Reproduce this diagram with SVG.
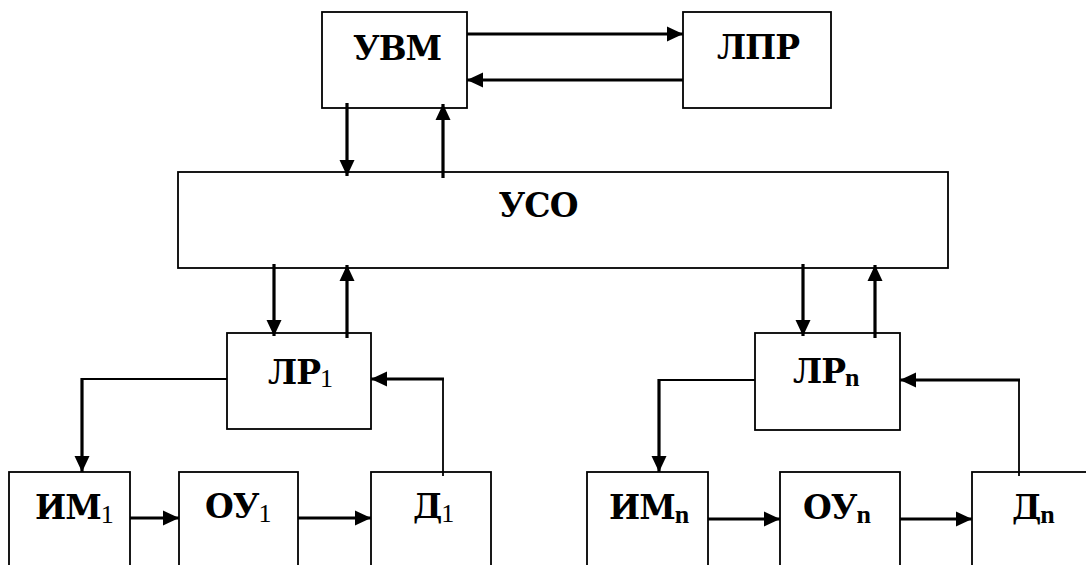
<svg xmlns="http://www.w3.org/2000/svg" width="1086" height="565" viewBox="0 0 1086 565">
<style>
.box{fill:#fff;stroke:#000;stroke-width:1.8}
text{font-family:'DejaVu Serif',serif;font-size:33px;font-weight:700;fill:#000;letter-spacing:-1px}
.sub1{font-family:'Liberation Serif',serif;font-size:26px;font-weight:400;letter-spacing:0}
.subn{font-family:'Liberation Serif',serif;font-size:26px;font-weight:700;letter-spacing:0}
.thick{fill:none;stroke:#000;stroke-width:3.2}
.thin{fill:none;stroke:#000;stroke-width:1.8}
.arr{marker-end:url(#ah)}
</style>
<defs>
<marker id="ah" markerUnits="userSpaceOnUse" markerWidth="17" markerHeight="16" refX="16" refY="8" orient="auto">
<path d="M0,0.5 L16,8 L0,15.5 z" fill="#000"/>
</marker>
</defs>
<rect width="1086" height="565" fill="#fff"/>
<g id="uvm"><rect class="box" x="322" y="12" width="145" height="96"/><text x="397" y="60" text-anchor="middle">УВМ</text></g>
<g id="lpr"><rect class="box" x="683" y="12" width="148" height="96"/><text x="758" y="59" text-anchor="middle">ЛПР</text></g>
<g id="uso"><rect class="box" x="178" y="172" width="770" height="96"/><text x="538" y="217" text-anchor="middle">УСО</text></g>
<g id="lr1"><rect class="box" x="227" y="333" width="144" height="96"/><text x="268" y="384">ЛР<tspan class="sub1" dy="3">1</tspan></text></g>
<g id="lrn"><rect class="box" x="755" y="333" width="145" height="97"/><text x="793" y="383">ЛР<tspan class="subn" dy="3">n</tspan></text></g>
<g id="im1"><rect class="box" x="9" y="472" width="121" height="120"/><text x="35" y="519">ИМ<tspan class="sub1" dy="4">1</tspan></text></g>
<g id="ou1"><rect class="box" x="179" y="472" width="119" height="120"/><text x="205" y="518">ОУ<tspan class="sub1" dy="4">1</tspan></text></g>
<g id="d1"><rect class="box" x="371" y="472" width="120" height="120"/><text x="413" y="518">Д<tspan class="sub1" dy="4">1</tspan></text></g>
<g id="imn"><rect class="box" x="587" y="472" width="121" height="120"/><text x="609" y="519">ИМ<tspan class="subn" dy="4">n</tspan></text></g>
<g id="oun"><rect class="box" x="780" y="472" width="120" height="120"/><text x="803" y="519">ОУ<tspan class="subn" dy="4">n</tspan></text></g>
<g id="dn"><rect class="box" x="972" y="472" width="140" height="120"/><text x="1012" y="519">Д<tspan class="subn" dy="4">n</tspan></text></g>
<g id="connectors">
<line class="thick arr" x1="467" y1="34" x2="683" y2="34"/>
<line class="thick arr" x1="683" y1="80" x2="467" y2="80"/>
<line class="thick arr" x1="347" y1="103" x2="347" y2="176"/>
<line class="thick arr" x1="443" y1="178" x2="443" y2="104"/>
<line class="thick arr" x1="274" y1="264" x2="274" y2="336"/>
<line class="thick arr" x1="347" y1="338" x2="347" y2="265"/>
<line class="thick arr" x1="803" y1="264" x2="803" y2="336"/>
<line class="thick arr" x1="875" y1="338" x2="875" y2="265"/>
<line class="thin" x1="227" y1="379" x2="82" y2="379"/>
<line class="thick arr" x1="82" y1="378" x2="82" y2="472"/>
<line class="thick arr" x1="130" y1="518" x2="179" y2="518"/>
<line class="thick arr" x1="298" y1="518" x2="371" y2="518"/>
<line class="thin" x1="443" y1="476" x2="443" y2="379"/>
<line class="thick arr" x1="444" y1="379" x2="371" y2="379"/>
<line class="thin" x1="755" y1="380" x2="659" y2="380"/>
<line class="thick arr" x1="659" y1="379" x2="659" y2="472"/>
<line class="thick arr" x1="708" y1="519" x2="780" y2="519"/>
<line class="thick arr" x1="900" y1="519" x2="972" y2="519"/>
<line class="thin" x1="1019" y1="476" x2="1019" y2="380"/>
<line class="thick arr" x1="1020" y1="380" x2="900" y2="380"/>
</g>
</svg>
